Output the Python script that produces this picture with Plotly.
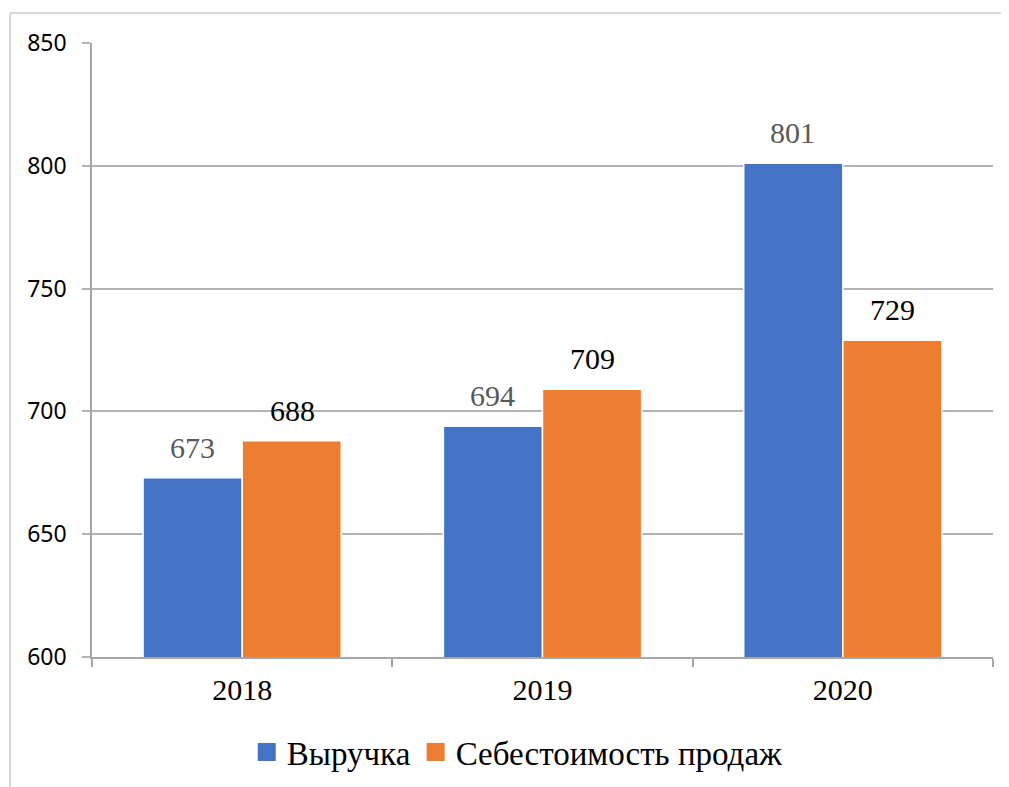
import plotly.graph_objects as go

years = ["2018", "2019", "2020"]
revenue = [673, 694, 801]
cost = [688, 709, 729]
names = ["Выручка", "Себестоимость продаж"]
colors = ["#4472C4", "#ED7D31"]
label_colors = ["#595959", "#000000"]

W, H = 1009, 787
OFF = 8  # browser body margin
# target screen positions of the plot area
sx0, sx1, sy0, sy1 = 92, 993, 43, 657
L = sx0 - OFF
R = W - (sx1 - OFF)
T = sy0 - OFF
B = H - (sy1 - OFF)
pw, ph = W - L - R, H - T - B

def px_x(x):
    return (x - OFF - L) / pw

def px_y(y):
    return 1 - (y - OFF - T) / ph

fig = go.Figure()
for vals, nm, col in [(revenue, names[0], colors[0]), (cost, names[1], colors[1])]:
    fig.add_trace(go.Bar(
        x=years, y=vals, name=nm, showlegend=False,
        marker=dict(color=col, line=dict(color="white", width=1.5)),
    ))
# legend entries (on a hidden overlay axis pair)
for nm, col in zip(names, colors):
    fig.add_trace(go.Scatter(
        x=[None], y=[None], mode="markers", name=nm, xaxis="x2", yaxis="y2",
        marker=dict(symbol="square", size=16, color=col, line=dict(color=col, width=2)),
    ))

# value labels above bars (x given as category index)
annotations = []
bar_shift = 50  # half of bar width in px (offset from category centre)
for vals, sign, lc in [(revenue, -1, label_colors[0]), (cost, 1, label_colors[1])]:
    for i, v in enumerate(vals):
        annotations.append(dict(
            x=i, y=v, xref="x", yref="y", text=str(v), showarrow=False,
            xshift=sign * bar_shift, yshift=12, yanchor="bottom",
            font=dict(family="Liberation Serif", size=30, color=lc),
        ))

fig.update_layout(
    width=W, height=H,
    margin=dict(l=L, r=R, t=T, b=B),
    paper_bgcolor="white", plot_bgcolor="white",
    barmode="group", bargap=0.34, bargroupgap=0.0,
    showlegend=True,
    legend=dict(orientation="h", x=0.472, xanchor="center", y=px_y(752), yanchor="middle",
                font=dict(family="Liberation Serif", size=33, color="#000000"),
                itemwidth=30, tracegroupgap=0),
    xaxis=dict(type="category", categoryorder="array", categoryarray=years,
               range=[-0.5, len(years) - 0.5], autorange=False,
               showgrid=False, showline=True, linecolor="#a6a6a6", linewidth=1.5,
               ticks="outside", tickson="boundaries", ticklen=8, tickcolor="#a6a6a6",
               tickwidth=1.5, tickangle=0, ticklabelstandoff=5,
               tickfont=dict(family="Liberation Serif", size=30, color="#000000")),
    yaxis=dict(range=[600, 850], dtick=50, showgrid=True, gridcolor="#b3b3b3", gridwidth=1.5,
               showline=True, linecolor="#a6a6a6", linewidth=1.5,
               ticks="outside", ticklen=8, tickcolor="#b3b3b3", tickwidth=1.5,
               ticklabelstandoff=11, zeroline=False,
               tickfont=dict(family="Noto Sans", size=23, color="#000000")),
    xaxis2=dict(overlaying="x", visible=False, range=[0, 1]),
    yaxis2=dict(overlaying="y", visible=False, range=[0, 1]),
    annotations=annotations,
    shapes=[
        dict(type="line", xref="paper", yref="paper", x0=px_x(10), x1=px_x(10),
             y0=px_y(13), y1=px_y(800), line=dict(color="#d9d9d9", width=2)),
        dict(type="line", xref="paper", yref="paper", x0=px_x(10), x1=px_x(1020),
             y0=px_y(13), y1=px_y(13), line=dict(color="#d9d9d9", width=2)),
    ],
)

fig.write_html("out.html")
